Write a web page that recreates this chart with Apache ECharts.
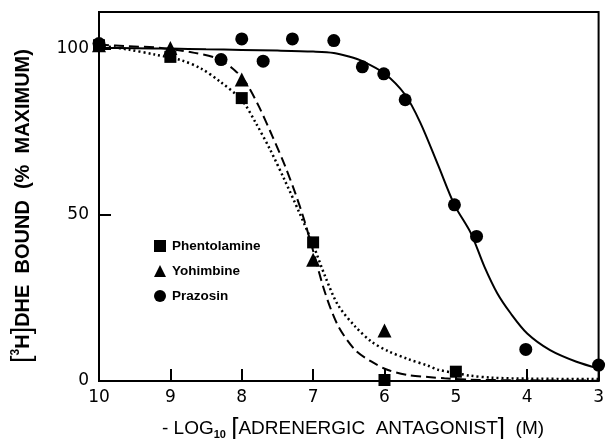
<!DOCTYPE html>
<html><head><meta charset="utf-8">
<script src="https://cdn.jsdelivr.net/npm/echarts@6/dist/echarts.min.js"></script>
<style>html,body{margin:0;padding:0;background:#fff}#c{width:607px;height:439px}</style>
</head><body><div id="c"></div>
<script>
// x = -log10 [antagonist] (M), y = % maximum bound
const xTickValues = [10, 9, 8, 7, 6, 5, 4, 3];
const yTickValues = [0, 50, 100];
const seriesNames = ['Phentolamine', 'Yohimbine', 'Prazosin'];

const phentolaminePts = [[10,101],[9,97.5],[8,85.1],[7,41.7],[6,0.3],[5,2.8]];
const yohimbinePts = [[10,101],[9,100.2],[8,90.7],[7,36.5],[6,15.2]];
const prazosinPts = [[10,101.5],[8.29,96.7],[8,102.9],[7.7,96.2],[7.29,102.9],[6.71,102.4],[6.31,94.5],[6.01,92.4],[5.71,84.6],[5.02,53.0],[4.71,43.5],[4.02,9.5],[3,4.8]];

// fitted curves
const phentolamineCurve = [[10,101],[9.59,99.7],[9.22,98.2],[8.85,96.5],[8.57,94],[8.3,90],[8.0,84.5],[7.8,77.5],[7.6,69.5],[7.4,60.5],[7.2,51],[7.0,41],[6.83,31.4],[6.65,22.8],[6.41,16.4],[6.18,11.8],[5.95,9.0],[5.67,6.6],[5.39,4.6],[5.25,3.4],[4.98,2.3],[4.8,1.6],[4.5,1.0],[4,0.7],[3,0.6]];
const yohimbineCurve = [[10,101.2],[9.59,100.7],[9.13,100.2],[8.66,98.7],[8.34,97.0],[8.1,93.5],[7.94,89.7],[7.76,82.6],[7.57,73.6],[7.39,64.5],[7.25,56.5],[7.13,48.8],[6.99,38.4],[6.83,26.4],[6.65,16.6],[6.41,9.3],[6.18,5.8],[5.95,3.3],[5.67,1.8],[5.39,1.2],[5.16,0.8],[4.8,0.4],[4,0.2],[3,0.1]];
const prazosinCurve = [[10,100.2],[9.5,100.1],[9,100],[8.5,99.8],[8,99.6],[7.5,99.4],[7,99.1],[6.71,98.7],[6.5,97.6],[6.31,96.2],[6,92.5],[5.71,86.1],[5.5,77.8],[5.25,65],[5.02,53],[4.79,44.5],[4.6,34.4],[4.42,26.4],[4.23,20.3],[4,14.3],[3.68,9.3],[3.31,5.8],[3,3.8]];

const chart = echarts.init(document.getElementById('c'));
const tickFont = { fontFamily: 'DejaVu Sans', fontSize: 17, color: '#000' };
const markStyle = { color: '#000', opacity: 1 };

chart.setOption({
  animation: false,
  backgroundColor: '#fff',
  grid: { left: 99, right: 4, top: 12, bottom: 58, show: true, borderColor: '#000', borderWidth: 2 },
  legend: {
    orient: 'vertical', left: 149, top: 234, itemWidth: 12, itemHeight: 12, itemGap: 11,
    itemStyle: { color: '#000', opacity: 1 },
    textStyle: { fontFamily: 'Liberation Sans', fontWeight: 'bold', fontSize: 13.5, color: '#000', lineHeight: 12, padding: [0,0,0,1] },
    data: [
      { name: seriesNames[0], icon: 'rect' },
      { name: seriesNames[1], icon: 'triangle' },
      { name: seriesNames[2], icon: 'circle' }
    ]
  },
  xAxis: {
    type: 'value', min: 3, max: 10, interval: 1, inverse: true,
    axisLine: { lineStyle: { color: '#000', width: 2 } },
    axisTick: { inside: true, length: 12, lineStyle: { color: '#000', width: 2 } },
    axisLabel: Object.assign({ margin: 8, formatter: v => xTickValues.includes(v) ? String(v) : '' }, tickFont),
    splitLine: { show: false }
  },
  yAxis: {
    type: 'value', min: 0, max: 111, interval: 50,
    axisLine: { show: true, lineStyle: { color: '#000', width: 2 } },
    axisTick: { show: true, inside: true, length: 12, lineStyle: { color: '#000', width: 2 } },
    axisLabel: Object.assign({ margin: 10, formatter: v => yTickValues.includes(v) ? String(v) : '' }, tickFont),
    splitLine: { show: false }
  },
  graphic: [
    {
      type: 'text', x: 23, y: 206, rotation: Math.PI / 2,
      style: {
        text: '{br|[}{sup|3}{t|H}{br|]}{t|DHE  BOUND  (%  MAXIMUM)}',
        align: 'center', verticalAlign: 'middle', fill: '#000',
        rich: {
          t: { fontFamily: 'Liberation Sans', fontWeight: 'bold', fontSize: 20, lineHeight: 26, fill: '#000' },
          br: { fontFamily: 'Liberation Sans', fontSize: 27, lineHeight: 26, fill: '#000' },
          sup: { fontFamily: 'Liberation Sans', fontWeight: 'bold', fontSize: 12, lineHeight: 26, verticalAlign: 'top', padding: [0,0,8,0], fill: '#000' }
        }
      }
    },
    {
      type: 'text', x: 353, y: 429,
      style: {
        text: '{t|- LOG}{sub|10}{t| }{br|[}{t|ADRENERGIC  ANTAGONIST}{br|]}{t|  (M)}',
        align: 'center', verticalAlign: 'middle', fill: '#000',
        rich: {
          t: { fontFamily: 'Liberation Sans', fontSize: 19, lineHeight: 26, fill: '#000' },
          br: { fontFamily: 'Liberation Sans', fontSize: 26, lineHeight: 26, fill: '#000' },
          sub: { fontFamily: 'Liberation Sans', fontWeight: 'bold', fontSize: 11, lineHeight: 26, padding: [12,0,0,0], fill: '#000' }
        }
      }
    }
  ],
  series: [
    { type: 'line', data: phentolamineCurve, smooth: 0.3, showSymbol: false, silent: true, lineStyle: { color: '#000', width: 2.5, type: [2, 3] }, z: 2 },
    { type: 'line', data: yohimbineCurve, smooth: 0.3, showSymbol: false, silent: true, lineStyle: { color: '#000', width: 2, type: [10, 5] }, z: 2 },
    { type: 'line', data: prazosinCurve, smooth: 0.3, showSymbol: false, silent: true, lineStyle: { color: '#000', width: 2, type: 'solid' }, z: 2 },
    { name: seriesNames[0], type: 'scatter', data: phentolaminePts, symbol: 'rect', symbolSize: 12, itemStyle: markStyle, clip: false, z: 5 },
    { name: seriesNames[1], type: 'scatter', data: yohimbinePts, symbol: 'triangle', symbolSize: 14, itemStyle: markStyle, clip: false, z: 5 },
    { name: seriesNames[2], type: 'scatter', data: prazosinPts, symbol: 'circle', symbolSize: 13, itemStyle: markStyle, clip: false, z: 5 }
  ]
});
</script>
</body></html>
